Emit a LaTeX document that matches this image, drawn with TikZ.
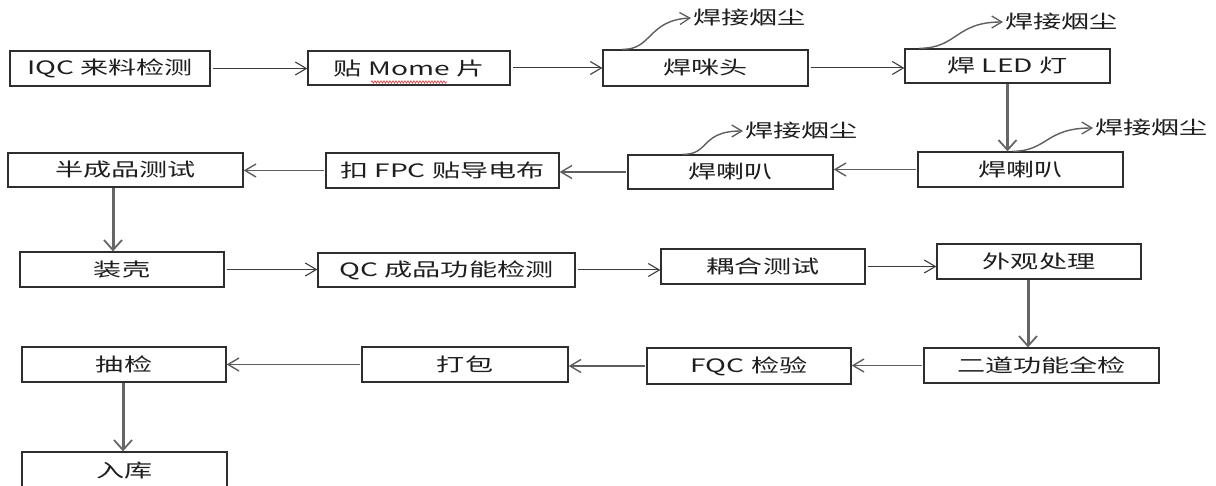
\documentclass[tikz,border=0pt]{standalone}
\usepackage{fontspec}
\newfontfamily\cjk[FakeStretch=1.52]{Noto Sans CJK SC}
\usetikzlibrary{arrows.meta,decorations.pathmorphing}
\definecolor{boxc}{HTML}{2E2E2E}
\definecolor{txt}{HTML}{1E1E1E}
\definecolor{harr}{HTML}{3C3C3C}
\definecolor{larr}{HTML}{5E5E5E}
\definecolor{varr}{HTML}{666666}
\definecolor{squig}{HTML}{E03030}
\begin{document}
\begin{tikzpicture}[x=1pt,y=-1pt,
  box/.style={draw=boxc,line width=1.3pt,rectangle,inner sep=0pt,
    font=\cjk\fontsize{18.5}{20}\selectfont,text=txt},
  lab/.style={inner sep=2pt,anchor=west,font=\cjk\fontsize{18.5}{20}\selectfont,text=txt},
  rarr/.style={draw=harr,line width=1pt,shorten <=2pt,
    -{Straight Barb[length=11pt,width=13pt,line width=1.1pt]}},
  larr/.style={draw=larr,line width=1.4pt,shorten <=1pt,
    -{Straight Barb[length=11pt,width=13pt,line width=1.4pt]}},
  varr/.style={draw=varr,line width=3pt,
    -{Straight Barb[length=10pt,width=18pt,line width=1.8pt]}},
  curv/.style={draw=larr,line width=1.4pt,
    -{Straight Barb[length=10pt,width=12pt,line width=1.3pt]}}
]
\useasboundingbox (0,0) rectangle (1216,486);

% row 1
\node[box,minimum width=200pt,minimum height=35pt] (iqc) at (110,68.5) {IQC 来料检测};
\node[box,minimum width=202pt,minimum height=34pt] (mome) at (409,68) {贴 Mome 片};
\node[box,minimum width=205pt,minimum height=36pt] (mic) at (705.5,68) {焊咪头};
\node[box,minimum width=205pt,minimum height=34pt] (led) at (1007.5,66) {焊 LED 灯};
% row 2
\node[box,minimum width=235pt,minimum height=34pt] (semi) at (125.5,170) {半成品测试};
\node[box,minimum width=233pt,minimum height=35pt] (fpc) at (442.5,170.5) {扣 FPC 贴导电布};
\node[box,minimum width=205pt,minimum height=34pt] (spkl) at (730.5,172) {焊喇叭};
\node[box,minimum width=205pt,minimum height=35pt] (spkr) at (1020.5,169.5) {焊喇叭};
% row 3
\node[box,minimum width=204pt,minimum height=35pt] (shell) at (122,269.5) {装壳};
\node[box,minimum width=257pt,minimum height=34pt] (qc) at (446.5,270) {QC 成品功能检测};
\node[box,minimum width=204pt,minimum height=35pt] (coup) at (763,266.5) {耦合测试};
\node[box,minimum width=204pt,minimum height=35pt] (look) at (1039,261.5) {外观处理};
% row 4
\node[box,minimum width=235pt,minimum height=35pt] (full) at (1041.5,365.5) {二道功能全检};
\node[box,minimum width=204pt,minimum height=36pt] (fqc) at (749,366) {FQC 检验};
\node[box,minimum width=206pt,minimum height=35pt] (pack) at (465,364.5) {打包};
\node[box,minimum width=204pt,minimum height=35pt] (samp) at (124,364.5) {抽检};
% row 5
\node[box,minimum width=205pt,minimum height=38pt] (store) at (124.5,471) {入库};

% squiggle under Mome
\draw[squig,line width=0.6pt,decorate,decoration={snake,amplitude=1.2pt,segment length=3pt}]
  (371,82) -- (447,82);

% labels
\node[lab] (l1) at (691,18) {焊接烟尘};
\node[lab] (l2) at (1003,22) {焊接烟尘};
\node[lab] (l3) at (743,131) {焊接烟尘};
\node[lab] (l4) at (1093,128) {焊接烟尘};

% row 1 arrows
\draw[rarr] (iqc.east) -- (iqc.east -| mome.west);
\draw[rarr] (mome.east) -- (mome.east -| mic.west);
\draw[rarr] (mic.east) -- (mic.east -| led.west);
% down
\draw[varr] (led.south) -- (led.south |- spkr.north);
% row 2 arrows
\draw[larr] (spkr.west) -- (spkr.west -| spkl.east);
\draw[larr] (spkl.west) -- (spkl.west -| fpc.east);
\draw[larr] (fpc.west) -- (fpc.west -| semi.east);
% down
\draw[varr] ([xshift=-12.5pt]semi.south) -- ([xshift=-12.5pt]semi.south |- shell.north);
% row 3 arrows
\draw[rarr] (shell.east) -- (shell.east -| qc.west);
\draw[rarr] (qc.east) -- (qc.east -| coup.west);
\draw[rarr] (coup.east) -- (coup.east -| look.west);
% down
\draw[varr] ([xshift=-11pt]look.south) -- ([xshift=-11pt]look.south |- full.north);
% row 4 arrows
\draw[larr] (full.west) -- (full.west -| fqc.east);
\draw[larr] (fqc.west) -- (fqc.west -| pack.east);
\draw[larr] (pack.west) -- (pack.west -| samp.east);
% down
\draw[varr] ([xshift=-1pt]samp.south) -- ([xshift=-1pt]samp.south |- store.north);

% fume curves
\draw[curv] ([xshift=20pt]mic.north west) .. controls (652,50) and (648,20) .. (l1.west);
\draw[curv] ([xshift=15pt]led.north west) .. controls (958,48) and (955,22) .. (l2.west);
\draw[curv] ([xshift=55pt]spkl.north west) .. controls (710,155) and (700,131) .. (l3.west);
\draw[curv] ([xshift=-8pt]spkr.north) .. controls (1048,151) and (1045,128) .. (l4.west);
\end{tikzpicture}
\end{document}
